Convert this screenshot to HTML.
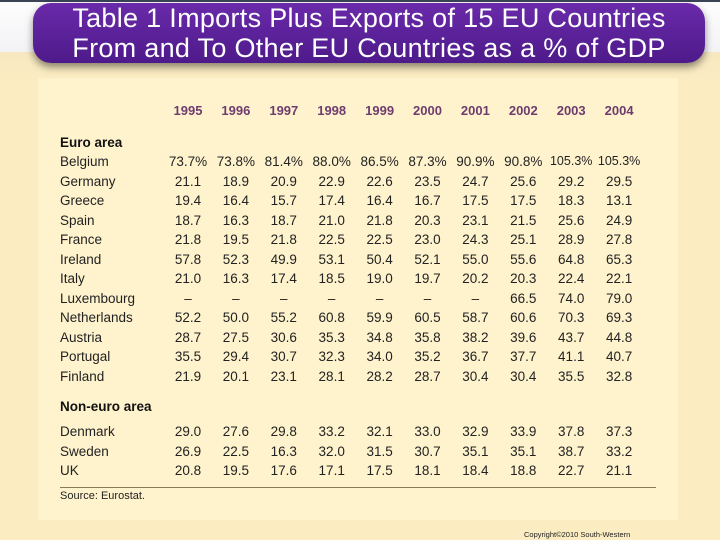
<!DOCTYPE html>
<html><head><meta charset="utf-8">
<style>
body{margin:0;width:720px;height:540px;overflow:hidden;font-family:"Liberation Sans",sans-serif;position:relative;background:#fbecc2}
#top{position:absolute;left:0;top:0;width:720px;height:52px;background:linear-gradient(#fdfdfd,#f3f3f6);border-top:2px solid #3a4455;box-sizing:border-box}
#fade{position:absolute;left:0;top:52px;width:720px;height:30px;background:linear-gradient(#f6e8c0,#fbecc2)}
#title{position:absolute;left:33px;top:3px;width:672px;height:60px;border-radius:18px;background:linear-gradient(#6a2aaa,#4e1a8a);box-shadow:0 4px 8px rgba(0,0,0,.45);color:#fff;font-size:27px;line-height:30px;text-align:center;padding-top:0px;box-sizing:border-box;letter-spacing:0.3px}
#panel{position:absolute;left:38px;top:78px;width:640px;height:442px;background:#fff3cd}
.t{position:absolute;font-size:13.5px;color:#222;white-space:nowrap}
.y{position:absolute;font-size:13px;font-weight:bold;color:#6e3c6e;transform:translateX(-50%)}
.v{position:absolute;font-size:13.5px;color:#222;transform:translateX(-50%);white-space:nowrap}
.h{position:absolute;font-size:13.5px;font-weight:bold;color:#111}
#rule{position:absolute;left:60px;top:487px;width:596px;height:1px;background:#8a7a55}
#copy{position:absolute;left:524px;top:530px;font-size:7.5px;color:#222}
</style></head><body>
<div id="top"></div>
<div id="fade"></div>
<div id="title">Table 1 Imports Plus Exports of 15 EU Countries<br>From and To Other EU Countries as a % of GDP</div>
<div id="panel"></div>
<div class="h" style="left:60px;top:135px">Euro area</div>
<div class="h" style="left:60px;top:399px">Non-euro area</div>
<div id="rule"></div>
<div class="t" style="left:60px;top:490px;font-size:11px">Source: Eurostat.</div>
<div id="copy">Copyright©2010 South-Western</div>
<div id="tbl"></div>
<script>
const years=["1995","1996","1997","1998","1999","2000","2001","2002","2003","2004"];
const countries=["Belgium","Germany","Greece","Spain","France","Ireland","Italy","Luxembourg","Netherlands","Austria","Portugal","Finland","Denmark","Sweden","UK"];
const values=[
["73.7%","73.8%","81.4%","88.0%","86.5%","87.3%","90.9%","90.8%","105.3%","105.3%"],
["21.1","18.9","20.9","22.9","22.6","23.5","24.7","25.6","29.2","29.5"],
["19.4","16.4","15.7","17.4","16.4","16.7","17.5","17.5","18.3","13.1"],
["18.7","16.3","18.7","21.0","21.8","20.3","23.1","21.5","25.6","24.9"],
["21.8","19.5","21.8","22.5","22.5","23.0","24.3","25.1","28.9","27.8"],
["57.8","52.3","49.9","53.1","50.4","52.1","55.0","55.6","64.8","65.3"],
["21.0","16.3","17.4","18.5","19.0","19.7","20.2","20.3","22.4","22.1"],
["–","–","–","–","–","–","–","66.5","74.0","79.0"],
["52.2","50.0","55.2","60.8","59.9","60.5","58.7","60.6","70.3","69.3"],
["28.7","27.5","30.6","35.3","34.8","35.8","38.2","39.6","43.7","44.8"],
["35.5","29.4","30.7","32.3","34.0","35.2","36.7","37.7","41.1","40.7"],
["21.9","20.1","23.1","28.1","28.2","28.7","30.4","30.4","35.5","32.8"],
["29.0","27.6","29.8","33.2","32.1","33.0","32.9","33.9","37.8","37.3"],
["26.9","22.5","16.3","32.0","31.5","30.7","35.1","35.1","38.7","33.2"],
["20.8","19.5","17.6","17.1","17.5","18.1","18.4","18.8","22.7","21.1"]];
const tbl=document.getElementById('tbl');
const colX=i=>188+i*47.9;
const rowY=r=>r<12?154+r*19.5:424+(r-12)*19.5;
years.forEach((y,i)=>{const d=document.createElement('div');d.className='y';d.textContent=y;d.style.left=colX(i)+'px';d.style.top='103px';


tbl.appendChild(d);});
countries.forEach((c,r)=>{const d=document.createElement('div');d.className='t';d.textContent=c;d.style.left='60px';d.style.top=rowY(r)+'px';


tbl.appendChild(d);
values[r].forEach((v,i)=>{const e=document.createElement('div');e.className='v';e.textContent=v;e.style.left=colX(i)+'px';e.style.top=rowY(r)+'px';
if(v.length>5){e.style.fontSize='12.5px';}


tbl.appendChild(e);});});
</script>
</body></html>
